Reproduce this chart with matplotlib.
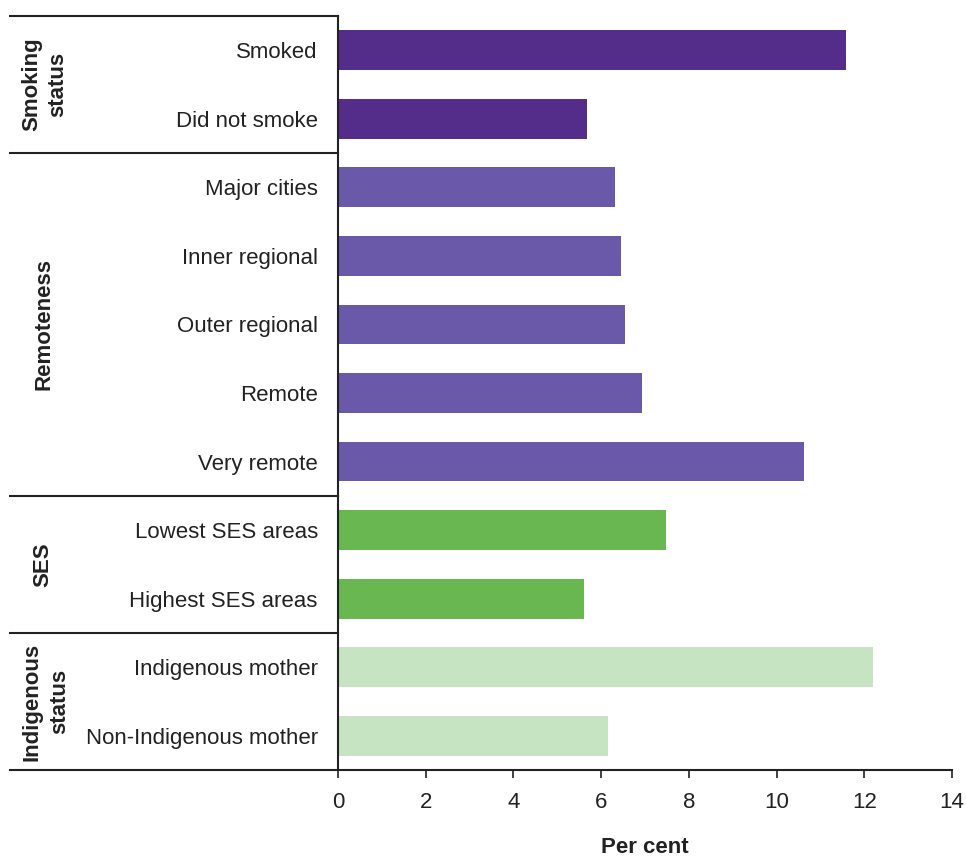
import matplotlib
matplotlib.use("Agg")
import matplotlib.pyplot as plt
from matplotlib.lines import Line2D

plt.rcParams['font.family'] = ['Liberation Sans', 'DejaVu Sans']

categories = ["Smoked", "Did not smoke", "Major cities", "Inner regional",
              "Outer regional", "Remote", "Very remote", "Lowest SES areas",
              "Highest SES areas", "Indigenous mother", "Non-Indigenous mother"]
values = [11.58, 5.68, 6.32, 6.45, 6.54, 6.93, 10.62, 7.48, 5.61, 12.2, 6.16]
groups = ["Smoking\nstatus", "Remoteness", "SES", "Indigenous\nstatus"]
group_sizes = [2, 5, 2, 2]
group_colors = ["#542d8a", "#6a59a8", "#69b751", "#c6e4c1"]
xticks = [0, 2, 4, 6, 8, 10, 12, 14]

fig = plt.figure(figsize=(9.66, 8.58), dpi=100)
ax = fig.add_axes([338/966, 88/858, 614/966, 754/858])

colors = []
for c, n in zip(group_colors, group_sizes):
    colors += [c] * n

ypos = list(range(len(categories)))
ax.barh(ypos, values, height=0.58, color=colors)
ax.set_ylim(len(categories) - 0.5, -0.5)
ax.set_xlim(0, 14)
ax.set_xticks(xticks)
ax.set_xticklabels([str(t) for t in xticks], fontsize=16, color="#222222")
ax.set_yticks(ypos)
ax.set_yticklabels(categories, fontsize=16, color="#222222")
ax.tick_params(axis='y', length=0, pad=14.5)
ax.tick_params(axis='x', length=6, width=1.2, pad=10, colors="#222222")
ax.spines['top'].set_visible(False)
ax.spines['right'].set_visible(False)
ax.spines['left'].set_linewidth(1.5)
ax.spines['bottom'].set_linewidth(1.5)
ax.spines['left'].set_color("#222222")
ax.spines['bottom'].set_color("#222222")
ax.set_xlabel("Per cent", fontsize=16, fontweight='bold', labelpad=17, color="#222222")

# group separators and labels
xl = (10 - 338) / 614
n = len(categories)
start = 0
bounds = [0]
for s in group_sizes:
    start += s
    bounds.append(start)
for b in bounds:
    yv = 1 - b / n
    ax.add_line(Line2D([xl, 0], [yv, yv], transform=ax.transAxes, color="#222222",
                       lw=1.5, clip_on=False))

label_x = [(45 - 338) / 614, (44 - 338) / 614, (43 - 338) / 614, (46 - 338) / 614]
spacings = [1.3, 1.2, 1.2, 1.45]
for g, lx, ls, b0, b1 in zip(groups, label_x, spacings, bounds[:-1], bounds[1:]):
    yc = 1 - (b0 + b1) / 2 / n
    ax.text(lx, yc, g, transform=ax.transAxes, rotation=90, ha='center', va='center',
            fontsize=16, fontweight='bold', color="#222222", linespacing=ls)

fig.savefig("out.png", dpi=100)
